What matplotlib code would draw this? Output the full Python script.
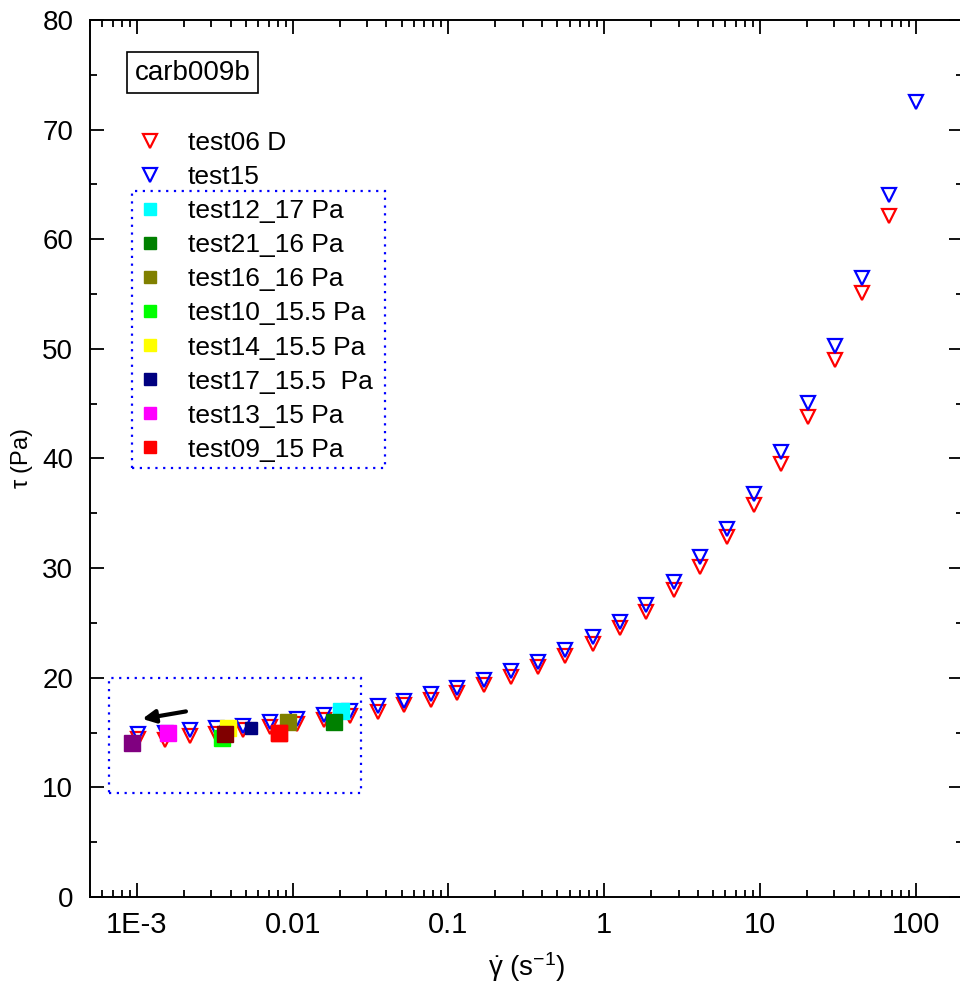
import matplotlib
matplotlib.use('Agg')
import matplotlib.pyplot as plt
from matplotlib.lines import Line2D
from matplotlib.patches import Rectangle
from matplotlib.ticker import FixedLocator, NullFormatter, LogLocator

plt.rcParams['font.family'] = ['Liberation Sans', 'DejaVu Sans']
plt.rcParams['mathtext.fontset'] = 'custom'
plt.rcParams['mathtext.rm'] = 'Liberation Sans'
plt.rcParams['mathtext.it'] = 'Liberation Sans:italic'

# flow curves: shear rate (1/s) and stress (Pa)
rate_d = [0.00101, 0.00151, 0.00219, 0.00321, 0.00478, 0.00713, 0.0106, 0.0158,
          0.0235, 0.0351, 0.0522, 0.0778, 0.114, 0.170, 0.253, 0.377, 0.562,
          0.850, 1.27, 1.86, 2.81, 4.12, 6.14, 9.16, 13.6, 20.3, 30.3, 45.2, 67.4]
tau_d = [14.4, 14.3, 14.7, 14.9, 15.2, 15.5, 15.8, 16.1, 16.5, 16.9, 17.5, 18.0,
         18.6, 19.3, 20.1, 21.0, 22.0, 23.1, 24.5, 26.0, 28.0, 30.1, 32.8, 35.8,
         39.5, 43.8, 49.0, 55.1, 62.1]

rate_15 = rate_d + [100.0]
tau_15 = [14.9, 15.0, 15.2, 15.4, 15.6, 16.0, 16.2, 16.6, 17.0, 17.45, 17.9, 18.5,
          19.1, 19.8, 20.6, 21.4, 22.5, 23.7, 25.1, 26.6, 28.7, 31.0, 33.6, 36.8,
          40.6, 45.1, 50.3, 56.5, 64.0, 72.5]

# creep tests: steady rate reached at each applied stress
creep_names = ['test12_17 Pa', 'test21_16 Pa', 'test16_16 Pa', 'test10_15.5 Pa',
               'test14_15.5 Pa', 'test17_15.5  Pa', 'test13_15 Pa', 'test09_15 Pa']
creep_colors = ['#00ffff', '#008000', '#808000', '#00ff00',
                '#ffff00', '#000080', '#ff00ff', '#ff0000']
creep_rate = [0.0203, 0.0183, 0.00935, 0.00352, 0.00387, 0.00544, 0.00159, 0.00815]
creep_tau = [17.0, 16.0, 16.0, 14.5, 15.45, 15.45, 15.0, 15.0]
creep_ms = [12, 12, 12, 12, 12, 8, 12, 12]

extra_colors = ['#800080', '#800000']
extra_rate = [0.000925, 0.00369]
extra_tau = [14.0, 14.9]

fig = plt.figure(figsize=(9.6, 9.93), dpi=100)
ax = fig.add_axes([0.09375, 0.0967, 0.909, 0.8832])
ax.set_xscale('log')
ax.set_xlim(5e-4, 200)
ax.set_ylim(0, 80)

ax.plot(rate_d, tau_d, 'v', ls='none', ms=10.5, mfc='none', mec='red', mew=1.6)
ax.plot(rate_15, tau_15, 'v', ls='none', ms=10.5, mfc='none', mec='blue', mew=1.6)

ax.plot(extra_rate[0], extra_tau[0], 's', ms=12, color=extra_colors[0])
order = [3, 4, 6, 0, 1, 2, 7, 5]
for i in order:
    ax.plot(creep_rate[i], creep_tau[i], 's', ms=creep_ms[i], color=creep_colors[i])
ax.plot(extra_rate[1], extra_tau[1], 's', ms=12, color=extra_colors[1])
ax.plot(creep_rate[7], creep_tau[7], 's', ms=12, color=creep_colors[7])

# low-rate zone and arrow
ax.add_patch(Rectangle((0.000662, 9.5), 0.0273 - 0.000662, 10.5, fill=False,
                       ec='blue', ls=(0, (1, 2.5)), lw=1.6))
ax.annotate('', xy=(0.00104, 16.2), xytext=(0.00215, 16.97),
            arrowprops=dict(arrowstyle='-|>', color='black', lw=3, mutation_scale=19))

# legend
handles = [Line2D([], [], marker='v', ls='none', ms=10, mfc='none', mec='red', mew=1.6),
           Line2D([], [], marker='v', ls='none', ms=10, mfc='none', mec='blue', mew=1.6)]
for c in creep_colors:
    handles.append(Line2D([], [], marker='s', ls='none', ms=9, color=c))
labels = ['test06 D', 'test15'] + creep_names
ax.legend(handles, labels, loc='upper left', bbox_to_anchor=(0.045, 0.873), frameon=False,
          fontsize=19, labelspacing=0.38, handletextpad=0.63, handlelength=1.6,
          borderaxespad=0, borderpad=0)
ax.add_patch(Rectangle((0.048, 0.489), 0.29, 0.316, transform=ax.transAxes, fill=False,
                       ec='blue', ls=(0, (1, 2.5)), lw=1.6))

ax.text(0.051, 0.940, 'carb009b', transform=ax.transAxes, fontsize=20, va='center', ha='left',
        bbox=dict(boxstyle='square,pad=0.28', fc='white', ec='black', lw=1.2))

# ticks
ax.yaxis.set_major_locator(FixedLocator(range(0, 81, 10)))
ax.yaxis.set_minor_locator(FixedLocator(range(5, 80, 10)))
ax.xaxis.set_major_locator(LogLocator(base=10, numticks=20))
ax.xaxis.set_minor_locator(LogLocator(base=10, subs=range(2, 10), numticks=20))
ax.xaxis.set_minor_formatter(NullFormatter())
ax.set_xticks([1e-3, 1e-2, 1e-1, 1, 10, 100])
ax.set_xticklabels(['1E-3', '0.01', '0.1', '1', '10', '100'])
ax.tick_params(which='both', direction='in', top=True, right=True, width=1.3)
ax.tick_params(which='major', length=10)
ax.tick_params(which='minor', length=5)
ax.tick_params(axis='y', labelsize=20, pad=12)
ax.tick_params(axis='x', labelsize=21, pad=10)
for s in ax.spines.values():
    s.set_linewidth(1.4)

ax.set_xlabel(r'$\dot{\mathrm{\gamma}}$ (s$^{-1}$)', fontsize=20, labelpad=8)
ax.set_ylabel(r'$\mathrm{\tau}$' + ' (Pa)', fontsize=17)
ax.yaxis.set_label_coords(-0.063, 0.5)

fig.savefig('out.png', dpi=100)
